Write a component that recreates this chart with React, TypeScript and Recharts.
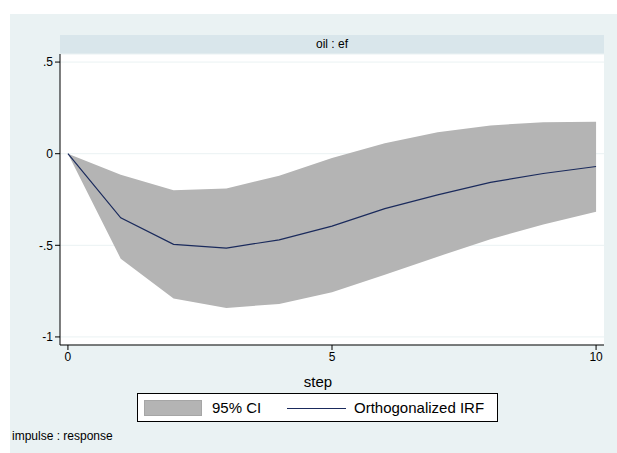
import React from 'react'
import { ComposedChart, Area, Line, XAxis, YAxis, CartesianGrid, Label } from 'recharts'

// IRF of oil -> ef
const steps = [0, 1, 2, 3, 4, 5, 6, 7, 8, 9, 10]
const irf = [0, -0.35, -0.495, -0.515, -0.47, -0.395, -0.3, -0.225, -0.157, -0.108, -0.07]
const lower = [0, -0.573, -0.79, -0.842, -0.82, -0.756, -0.66, -0.562, -0.467, -0.386, -0.317]
const upper = [0, -0.115, -0.2, -0.19, -0.12, -0.024, 0.057, 0.117, 0.154, 0.172, 0.174]
const yTicks = [-1, -0.5, 0, 0.5]
const yTickLabels = ['-1', '-.5', '0', '.5']
const xTicks = [0, 5, 10]

const data = steps.map((s, i) => ({ step: s, irf: irf[i], ci: [lower[i], upper[i]] }))

const FONT = 'Arial, "Liberation Sans", sans-serif'
const CI_FILL = '#b4b4b4'
const IRF_COLOR = '#1a2a5c'

function LegendBox() {
  return (
    <div style={{ position: 'absolute', left: 137, top: 393, width: 361, height: 29, background: '#fff', border: '1px solid #000', boxSizing: 'border-box', fontFamily: FONT, fontSize: 15, color: '#000' }}>
      <div style={{ position: 'absolute', left: 6, top: 6, width: 58, height: 16, background: CI_FILL, border: '1px solid #a6a6a6', boxSizing: 'border-box' }} />
      <div style={{ position: 'absolute', left: 74, top: 5, lineHeight: '18px' }}>95% CI</div>
      <div style={{ position: 'absolute', left: 149, top: 14, width: 59, height: 1, background: IRF_COLOR }} />
      <div style={{ position: 'absolute', left: 216, top: 5, lineHeight: '18px' }}>Orthogonalized IRF</div>
    </div>
  )
}

export default function App() {
  return (
    <div style={{ position: 'absolute', left: 0, top: 0, width: 617, height: 453, background: '#fff', overflow: 'hidden' }}>
      <div style={{ position: 'absolute', left: 10, top: 14, width: 607, height: 439, background: '#eaf2f3' }} />
      <div style={{ position: 'absolute', left: 60, top: 35, width: 544, height: 19, background: '#d9e6eb', fontFamily: FONT, fontSize: 12, lineHeight: '19px', textAlign: 'center', color: '#000' }}>
        oil : ef
      </div>
      <div style={{ position: 'absolute', left: 0, top: 0 }}>
        <ComposedChart width={617} height={453} data={data} margin={{ top: 54, right: 13, bottom: 63, left: 0 }}>
          <CartesianGrid horizontal vertical={false} stroke="#eaf2f3" fill="#fff" />
          <XAxis
            dataKey="step"
            type="number"
            domain={[-0.15, 10.15]}
            ticks={xTicks}
            tickSize={5}
            tickMargin={2}
            height={45}
            axisLine={{ stroke: '#000' }}
            tickLine={{ stroke: '#000' }}
            tick={{ fill: '#000', fontSize: 12, fontFamily: FONT }}
          >
            <Label value="step" position="insideBottom" offset={3} dx={-14} style={{ fill: '#000', fontSize: 15, fontFamily: FONT }} />
          </XAxis>
          <YAxis
            type="number"
            domain={[-1.044, 0.544]}
            ticks={yTicks}
            tickFormatter={(v: number) => yTickLabels[yTicks.indexOf(v)]}
            width={60}
            tickSize={5}
            tickMargin={2}
            axisLine={{ stroke: '#000' }}
            tickLine={{ stroke: '#000' }}
            tick={{ fill: '#000', fontSize: 12, fontFamily: FONT }}
            allowDataOverflow
          />
          <Area dataKey="ci" type="linear" fill={CI_FILL} fillOpacity={1} stroke="none" isAnimationActive={false} name="95% CI" />
          <Line dataKey="irf" type="linear" stroke={IRF_COLOR} strokeWidth={1.2} dot={false} isAnimationActive={false} name="Orthogonalized IRF" />
        </ComposedChart>
      </div>
      <LegendBox />
      <div style={{ position: 'absolute', left: 12, top: 429, fontFamily: FONT, fontSize: 12, color: '#000' }}>impulse : response</div>
    </div>
  )
}
